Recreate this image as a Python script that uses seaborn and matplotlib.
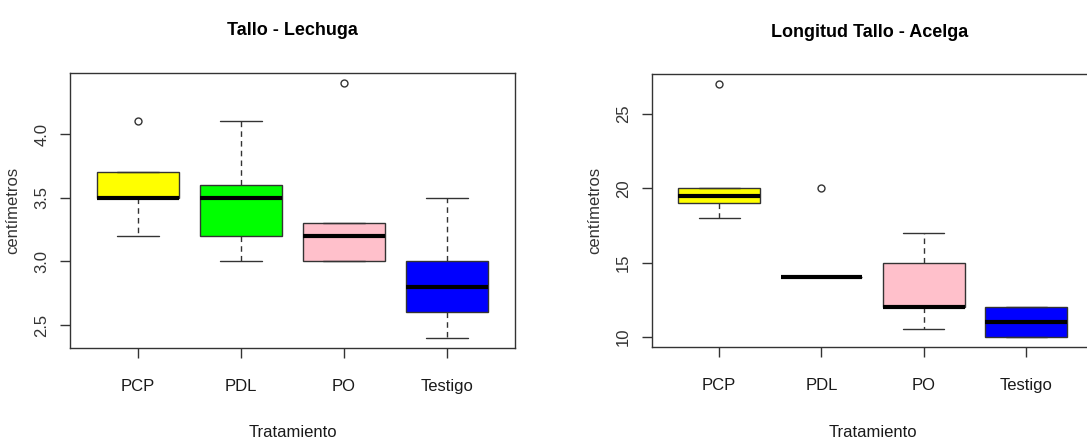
import pandas as pd
import matplotlib.pyplot as plt
import seaborn as sns

tratamientos = ['PCP', 'PDL', 'PO', 'Testigo']
colores = ['#FFFF00', '#00FF00', '#FFC0CB', '#0000FF']

# tallo lechuga (cm)
lechuga_pcp = [3.2, 3.5, 3.5, 3.5, 3.5, 3.6, 3.7, 3.7, 4.1]
lechuga_pdl = [3.0, 3.1, 3.2, 3.4, 3.5, 3.5, 3.6, 3.8, 4.1]
lechuga_po = [3.0, 3.0, 3.0, 3.1, 3.2, 3.3, 3.3, 3.3, 4.4]
lechuga_testigo = [2.4, 2.5, 2.6, 2.7, 2.8, 2.9, 3.0, 3.2, 3.5]

# longitud tallo acelga (cm)
acelga_pcp = [18, 18.5, 19, 19.2, 19.5, 19.8, 20, 20, 27]
acelga_pdl = [14, 14, 14, 14, 14, 14, 14, 14, 20]
acelga_po = [10.5, 12, 12, 12, 12, 13, 15, 16, 17]
acelga_testigo = [10, 10, 10, 10.5, 11, 11.5, 12, 12, 12]


def armar_df(grupos):
    filas = []
    for trat, valores in zip(tratamientos, grupos):
        for v in valores:
            filas.append({'Tratamiento': trat, 'valor': v})
    return pd.DataFrame(filas)


df_lechuga = armar_df([lechuga_pcp, lechuga_pdl, lechuga_po, lechuga_testigo])
df_acelga = armar_df([acelga_pcp, acelga_pdl, acelga_po, acelga_testigo])

sns.set_style('white')
plt.rcParams['font.family'] = ['Liberation Sans', 'DejaVu Sans']
gris = '#333333'

fig = plt.figure(figsize=(10.87, 4.42), dpi=100)
ax1 = fig.add_axes([0.0644, 0.2127, 0.4094, 0.6222])
ax2 = fig.add_axes([0.5995, 0.2149, 0.4066, 0.6176])


def dibujar(ax, df, titulo, ylim, yticks):
    sns.boxplot(data=df, x='Tratamiento', y='valor', hue='Tratamiento',
                palette=colores, saturation=1, legend=False, width=0.8, ax=ax,
                linecolor=gris, linewidth=1, whis=1.5,
                medianprops=dict(color='black', linewidth=3, solid_capstyle='butt'),
                whiskerprops=dict(linestyle=(0, (4, 3)), color=gris),
                capprops=dict(color=gris),
                flierprops=dict(marker='o', markerfacecolor='none',
                                markeredgecolor=gris, markersize=5,
                                markeredgewidth=1))
    ax.set_xlim(-0.66, 3.66)
    ax.set_ylim(*ylim)
    ax.set_yticks(yticks)
    ax.set_yticklabels([str(t) for t in yticks], rotation=90, va='center',
                       fontsize=12, color=gris)
    ax.set_xticks(range(4))
    ax.set_xticklabels(tratamientos, fontsize=12, color='#1a1a1a')
    ax.tick_params(axis='both', length=7, width=1, color=gris, direction='out',
                   left=True, bottom=True)
    ax.tick_params(axis='x', pad=15)
    ax.tick_params(axis='y', pad=8)
    for s in ax.spines.values():
        s.set_visible(True)
        s.set_color(gris)
        s.set_linewidth(1)
    ax.set_title(titulo, fontweight='bold', fontsize=13, pad=27, color='black')
    ax.set_xlabel('Tratamiento', fontsize=12, labelpad=23, color='#1a1a1a')
    ax.set_ylabel('centímetros', fontsize=12, color=gris, labelpad=10)


dibujar(ax1, df_lechuga, 'Tallo - Lechuga', (2.32, 4.48), [2.5, 3.0, 3.5, 4.0])
dibujar(ax2, df_acelga, 'Longitud Tallo - Acelga', (9.32, 27.68), [10, 15, 20, 25])

# el titulo y la etiqueta del panel derecho quedan centrados en la parte visible
ax2.title.set_x(0.5 - 0.5 * (1094 - 1087) / 442)

plt.savefig('out.png', dpi=100)
